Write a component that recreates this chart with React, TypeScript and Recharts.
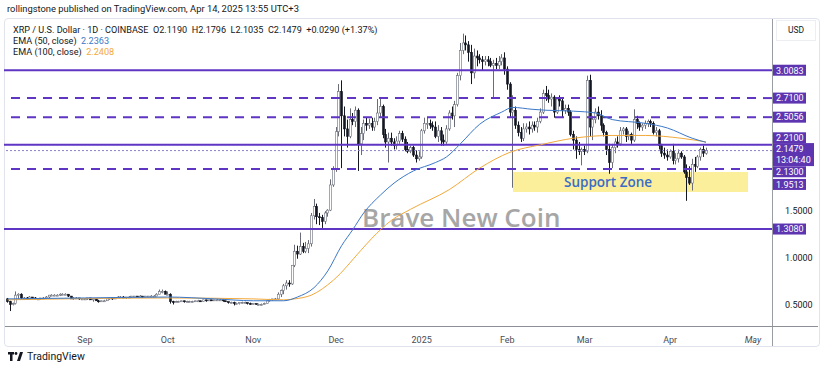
import React from 'react';
import {
  ComposedChart,
  Bar,
  Line,
  XAxis,
  YAxis,
  ReferenceLine,
  ReferenceArea,
} from 'recharts';

// daily candles, [open, high, low, close], first row = Aug 4 2024
const aug2024 = [
  [0.56, 0.57, 0.52, 0.53], [0.53, 0.54, 0.43, 0.50], [0.50, 0.52, 0.49, 0.51], [0.51, 0.64, 0.50, 0.60],
  [0.60, 0.62, 0.56, 0.61], [0.61, 0.62, 0.56, 0.57], [0.57, 0.58, 0.56, 0.57], [0.57, 0.58, 0.55, 0.56],
  [0.56, 0.59, 0.55, 0.58], [0.58, 0.58, 0.56, 0.57], [0.57, 0.58, 0.56, 0.56], [0.56, 0.57, 0.55, 0.56],
  [0.56, 0.57, 0.55, 0.57], [0.57, 0.58, 0.56, 0.57], [0.57, 0.59, 0.57, 0.58], [0.58, 0.60, 0.57, 0.60],
  [0.60, 0.61, 0.59, 0.60], [0.60, 0.61, 0.59, 0.60], [0.60, 0.61, 0.59, 0.60], [0.60, 0.62, 0.59, 0.61],
  [0.61, 0.62, 0.60, 0.61], [0.61, 0.62, 0.60, 0.61], [0.61, 0.61, 0.58, 0.59], [0.59, 0.59, 0.56, 0.56],
  [0.56, 0.58, 0.55, 0.57], [0.57, 0.58, 0.56, 0.57], [0.57, 0.57, 0.55, 0.56], [0.56, 0.57, 0.55, 0.56],
];
const sep2024 = [
  [0.56, 0.57, 0.55, 0.56], [0.56, 0.57, 0.55, 0.57], [0.57, 0.57, 0.55, 0.55], [0.55, 0.56, 0.53, 0.56],
  [0.56, 0.56, 0.54, 0.54], [0.54, 0.55, 0.52, 0.53], [0.53, 0.54, 0.53, 0.54], [0.54, 0.55, 0.53, 0.54],
  [0.54, 0.56, 0.54, 0.56], [0.56, 0.57, 0.55, 0.57], [0.57, 0.57, 0.55, 0.56], [0.56, 0.58, 0.56, 0.57],
  [0.57, 0.59, 0.57, 0.58], [0.58, 0.59, 0.57, 0.58], [0.58, 0.59, 0.57, 0.57], [0.57, 0.58, 0.56, 0.58],
  [0.58, 0.59, 0.57, 0.58], [0.58, 0.59, 0.57, 0.59], [0.59, 0.59, 0.58, 0.59], [0.59, 0.59, 0.58, 0.58],
  [0.58, 0.60, 0.58, 0.59], [0.59, 0.59, 0.57, 0.58], [0.58, 0.59, 0.58, 0.59], [0.59, 0.59, 0.58, 0.59],
  [0.59, 0.60, 0.58, 0.59], [0.59, 0.60, 0.58, 0.59], [0.59, 0.62, 0.59, 0.61], [0.61, 0.66, 0.61, 0.64],
  [0.64, 0.66, 0.62, 0.64], [0.64, 0.65, 0.61, 0.61],
];
const oct2024 = [
  [0.61, 0.64, 0.60, 0.61], [0.61, 0.62, 0.51, 0.53], [0.53, 0.54, 0.50, 0.52], [0.52, 0.54, 0.52, 0.53],
  [0.53, 0.54, 0.52, 0.53], [0.53, 0.54, 0.53, 0.54], [0.54, 0.54, 0.52, 0.53], [0.53, 0.54, 0.52, 0.53],
  [0.53, 0.54, 0.52, 0.53], [0.53, 0.54, 0.52, 0.53], [0.53, 0.54, 0.53, 0.54], [0.54, 0.55, 0.53, 0.54],
  [0.54, 0.54, 0.53, 0.53], [0.53, 0.55, 0.53, 0.55], [0.55, 0.55, 0.53, 0.54], [0.54, 0.55, 0.54, 0.55],
  [0.55, 0.55, 0.54, 0.54], [0.54, 0.55, 0.54, 0.55], [0.55, 0.56, 0.54, 0.55], [0.55, 0.56, 0.54, 0.55],
  [0.55, 0.55, 0.53, 0.54], [0.54, 0.54, 0.53, 0.53], [0.53, 0.53, 0.51, 0.52], [0.52, 0.53, 0.51, 0.52],
  [0.52, 0.53, 0.49, 0.51], [0.51, 0.52, 0.50, 0.51], [0.51, 0.52, 0.50, 0.52], [0.52, 0.53, 0.51, 0.52],
  [0.52, 0.53, 0.51, 0.52], [0.52, 0.52, 0.50, 0.51], [0.51, 0.52, 0.50, 0.50],
];
const nov2024 = [
  [0.50, 0.51, 0.50, 0.51], [0.51, 0.51, 0.50, 0.50], [0.50, 0.51, 0.49, 0.50], [0.50, 0.51, 0.49, 0.50],
  [0.50, 0.52, 0.50, 0.51], [0.51, 0.55, 0.51, 0.54], [0.54, 0.56, 0.53, 0.55], [0.55, 0.56, 0.54, 0.56],
  [0.56, 0.57, 0.55, 0.56], [0.56, 0.63, 0.55, 0.61], [0.61, 0.66, 0.58, 0.65], [0.65, 0.72, 0.61, 0.70],
  [0.70, 0.76, 0.66, 0.73], [0.73, 0.76, 0.69, 0.72], [0.72, 0.92, 0.71, 0.92], [0.92, 1.14, 0.90, 1.07],
  [1.07, 1.13, 0.99, 1.04], [1.04, 1.27, 1.03, 1.12], [1.12, 1.16, 1.05, 1.07], [1.07, 1.17, 1.05, 1.10],
  [1.10, 1.19, 1.05, 1.15], [1.15, 1.48, 1.12, 1.45], [1.45, 1.63, 1.41, 1.55], [1.55, 1.58, 1.36, 1.44],
  [1.44, 1.48, 1.35, 1.43], [1.43, 1.46, 1.32, 1.39], [1.39, 1.50, 1.36, 1.48], [1.48, 1.52, 1.44, 1.51],
  [1.51, 1.84, 1.50, 1.78], [1.78, 1.98, 1.76, 1.95],
];
const dec2024 = [
  [1.95, 2.40, 1.92, 2.35], [2.35, 2.86, 2.30, 2.78], [2.78, 2.90, 1.96, 2.52], [2.52, 2.62, 2.30, 2.38],
  [2.38, 2.48, 2.18, 2.30], [2.30, 2.60, 2.28, 2.48], [2.48, 2.55, 2.42, 2.46], [2.46, 2.62, 2.40, 2.58],
  [2.58, 2.60, 1.93, 2.22], [2.22, 2.40, 2.10, 2.33], [2.33, 2.48, 2.26, 2.44], [2.44, 2.50, 2.36, 2.42],
  [2.42, 2.49, 2.38, 2.44], [2.44, 2.50, 2.36, 2.40], [2.40, 2.50, 2.36, 2.46], [2.46, 2.70, 2.42, 2.55],
  [2.55, 2.72, 2.50, 2.62], [2.62, 2.64, 2.28, 2.32], [2.32, 2.38, 2.18, 2.24], [2.24, 2.34, 2.02, 2.28],
  [2.28, 2.34, 2.20, 2.24], [2.24, 2.28, 2.16, 2.20], [2.20, 2.30, 2.16, 2.25], [2.25, 2.36, 2.22, 2.33],
  [2.33, 2.36, 2.24, 2.27], [2.27, 2.30, 2.14, 2.16], [2.16, 2.24, 2.12, 2.14], [2.14, 2.20, 2.12, 2.18],
  [2.18, 2.20, 2.08, 2.10], [2.10, 2.15, 2.02, 2.06], [2.06, 2.14, 2.04, 2.08],
];
const jan2025 = [
  [2.08, 2.38, 2.06, 2.36], [2.36, 2.50, 2.33, 2.44], [2.44, 2.50, 2.38, 2.44], [2.44, 2.48, 2.38, 2.42],
  [2.42, 2.46, 2.36, 2.40], [2.40, 2.46, 2.28, 2.30], [2.30, 2.42, 2.24, 2.36], [2.36, 2.40, 2.20, 2.26],
  [2.26, 2.32, 2.20, 2.24], [2.24, 2.42, 2.22, 2.38], [2.38, 2.58, 2.36, 2.55], [2.55, 2.62, 2.48, 2.52],
  [2.52, 2.68, 2.40, 2.64], [2.64, 2.98, 2.62, 2.95], [2.95, 3.30, 2.90, 3.22], [3.22, 3.40, 3.18, 3.30],
  [3.30, 3.38, 3.22, 3.28], [3.28, 3.32, 3.10, 3.20], [3.20, 3.28, 2.86, 2.98], [2.98, 3.24, 2.92, 3.16],
  [3.16, 3.22, 3.05, 3.14], [3.14, 3.18, 3.08, 3.12], [3.12, 3.16, 3.00, 3.10], [3.10, 3.16, 3.06, 3.12],
  [3.12, 3.16, 3.05, 3.10], [3.10, 3.14, 3.04, 3.06], [3.06, 3.12, 2.70, 3.08], [3.08, 3.14, 3.02, 3.06],
  [3.06, 3.16, 3.02, 3.10], [3.10, 3.18, 3.06, 3.14], [3.14, 3.20, 2.96, 3.02],
];
const feb2025 = [
  [3.02, 3.05, 2.80, 2.86], [2.86, 2.88, 2.50, 2.56], [2.56, 2.74, 1.75, 2.58], [2.58, 2.62, 2.38, 2.42],
  [2.42, 2.46, 2.30, 2.34], [2.34, 2.40, 2.24, 2.28], [2.28, 2.44, 2.25, 2.38], [2.38, 2.44, 2.34, 2.40],
  [2.40, 2.46, 2.32, 2.38], [2.38, 2.46, 2.34, 2.42], [2.42, 2.46, 2.36, 2.40], [2.40, 2.50, 2.34, 2.46],
  [2.46, 2.60, 2.44, 2.56], [2.56, 2.80, 2.54, 2.76], [2.76, 2.84, 2.68, 2.74], [2.74, 2.80, 2.66, 2.70],
  [2.70, 2.76, 2.62, 2.72], [2.72, 2.74, 2.50, 2.56], [2.56, 2.72, 2.54, 2.70], [2.70, 2.74, 2.62, 2.68],
  [2.68, 2.72, 2.50, 2.58], [2.58, 2.64, 2.54, 2.60], [2.60, 2.64, 2.52, 2.56], [2.56, 2.58, 2.30, 2.32],
  [2.32, 2.36, 2.16, 2.26], [2.26, 2.30, 2.06, 2.16], [2.16, 2.24, 2.10, 2.14], [2.14, 2.18, 1.99, 2.16],
];
const mar2025 = [
  [2.16, 2.20, 2.10, 2.14], [2.14, 2.95, 2.12, 2.90], [2.90, 2.96, 2.30, 2.40], [2.40, 2.52, 2.26, 2.48],
  [2.48, 2.60, 2.44, 2.56], [2.56, 2.62, 2.48, 2.52], [2.52, 2.58, 2.36, 2.42], [2.42, 2.44, 2.30, 2.34],
  [2.34, 2.36, 2.10, 2.16], [2.16, 2.22, 1.90, 2.02], [2.02, 2.22, 1.96, 2.18], [2.18, 2.28, 2.12, 2.24],
  [2.24, 2.30, 2.18, 2.22], [2.22, 2.40, 2.20, 2.36], [2.36, 2.40, 2.32, 2.38], [2.38, 2.40, 2.24, 2.30],
  [2.30, 2.36, 2.26, 2.32], [2.32, 2.34, 2.22, 2.26], [2.26, 2.59, 2.24, 2.48], [2.48, 2.52, 2.38, 2.44],
  [2.44, 2.46, 2.36, 2.40], [2.40, 2.44, 2.36, 2.42], [2.42, 2.47, 2.38, 2.44], [2.44, 2.48, 2.40, 2.46],
  [2.46, 2.48, 2.40, 2.44], [2.44, 2.46, 2.32, 2.34], [2.34, 2.40, 2.30, 2.36], [2.36, 2.38, 2.16, 2.20],
  [2.20, 2.22, 2.08, 2.12], [2.12, 2.18, 2.06, 2.10], [2.10, 2.16, 2.04, 2.08],
];
const apr2025 = [
  [2.08, 2.16, 2.06, 2.14], [2.14, 2.22, 2.00, 2.04], [2.04, 2.12, 2.00, 2.06], [2.06, 2.16, 2.02, 2.12],
  [2.12, 2.14, 2.06, 2.08], [2.08, 2.10, 1.90, 1.92], [1.92, 2.00, 1.61, 1.86], [1.86, 1.98, 1.78, 1.80],
  [1.80, 2.06, 1.72, 2.00], [2.00, 2.08, 1.92, 1.98], [1.98, 2.10, 1.96, 2.08], [2.08, 2.18, 2.04, 2.16],
  [2.16, 2.20, 2.08, 2.12], [2.119, 2.1796, 2.1035, 2.1479],
];

// EMA lines: [day index, value]
const ema50Points = [
  [0, 0.56], [28, 0.57], [58, 0.58], [75, 0.56], [89, 0.54], [100, 0.54], [105, 0.58], [111, 0.68],
  [116, 0.86], [121, 1.13], [125, 1.3], [129, 1.48], [135, 1.67], [140, 1.8], [147, 1.93], [155, 2.02],
  [159, 2.08], [164, 2.22], [171, 2.43], [179, 2.56], [183, 2.61], [190, 2.59], [195, 2.58], [205, 2.57],
  [213, 2.55], [219, 2.48], [231, 2.44], [239, 2.39], [248, 2.28], [253, 2.2363],
];
const ema100Points = [
  [0, 0.55], [58, 0.57], [89, 0.56], [100, 0.55], [104, 0.56], [110, 0.6], [118, 0.76], [128, 1.08],
  [132, 1.21], [139, 1.4], [146, 1.52], [160, 1.73], [171, 1.96], [182, 2.13], [193, 2.21], [205, 2.28],
  [219, 2.31], [231, 2.31], [244, 2.28], [253, 2.2408],
];

const monthTicks = [28, 58, 89, 119, 150, 181, 209, 240, 270];
const monthLabels = ['Sep', 'Oct', 'Nov', 'Dec', '2025', 'Feb', 'Mar', 'Apr', 'May'];
const priceTicks = [0.5, 1.0, 1.5];

const PURPLE = '#5f35c4';
const TAG = '#5e35b1';
const UP = '#6a6d78';
const DOWN = '#131722';
const FONT = 'Roboto, "Open Sans", sans-serif';

const candles = [...aug2024, ...sep2024, ...oct2024, ...nov2024, ...dec2024, ...jan2025, ...feb2025, ...mar2025, ...apr2025];

const rows = candles.map(([open, high, low, close], day) => {
  const row: any = { day, open, high, low, close, range: [low, high] };
  const e50 = ema50Points.find((p) => p[0] === day);
  const e100 = ema100Points.find((p) => p[0] === day);
  if (e50) row.ema50 = e50[1];
  if (e100) row.ema100 = e100[1];
  return row;
});

const Candle = (props: any) => {
  const { x, y, width, height, payload } = props;
  if (!payload) return null;
  const { open, high, low, close } = payload;
  const top = Math.min(y, y + height);
  const h = Math.abs(height);
  const k = h / (high - low || 1);
  const cx = Math.round(x + width / 2) + 0.5;
  const yO = top + (high - open) * k;
  const yC = top + (high - close) * k;
  const up = close >= open;
  const bodyTop = Math.min(yO, yC);
  const bodyH = Math.max(1, Math.abs(yC - yO));
  const col = up ? UP : DOWN;
  return (
    <g>
      <line x1={cx} x2={cx} y1={top} y2={top + h} stroke={col} strokeWidth={1} />
      <rect x={cx - 1} y={bodyTop} width={2} height={bodyH} fill={up ? '#ffffff' : DOWN} stroke={col} strokeWidth={0.6} />
    </g>
  );
};

const priceTag = (text: string, dy: number) => (props: any) => {
  const vb = props.viewBox || {};
  const x = (vb.x || 0) + (vb.width || 0) + 1;
  const cy = (vb.y || 0) + dy;
  return (
    <g>
      <rect x={x} y={cy - 5.5} width={33} height={11} fill={TAG} />
      <text x={x + 3} y={cy + 3.3} fontSize={9} fontFamily={FONT} fill="#fff">
        {text}
      </text>
    </g>
  );
};

const currentTag = (props: any) => {
  const vb = props.viewBox || {};
  const x = (vb.x || 0) + (vb.width || 0) + 1;
  const top = (vb.y || 0) - 7.5;
  return (
    <g>
      <rect x={x} y={top} width={41} height={23} fill={TAG} />
      <text x={x + 3} y={top + 9} fontSize={9} fontFamily={FONT} fill="#fff">2.1479</text>
      <text x={x + 3} y={top + 19.5} fontSize={9} fontFamily={FONT} fill="#fff">13:04:40</text>
    </g>
  );
};

const zoneLabel = (props: any) => {
  const vb = props.viewBox || {};
  return (
    <text
      x={(vb.x || 0) + 95}
      y={(vb.y || 0) + (vb.height || 0) / 2 + 5}
      textAnchor="middle"
      fontSize={13.5}
      fontWeight={600}
      fontFamily='"Open Sans", sans-serif'
      fill="#3a6cc6"
    >
      Support Zone
    </text>
  );
};

const MonthTick = (props: any) => {
  const { x, y, payload } = props;
  const i = monthTicks.indexOf(payload.value);
  return (
    <text x={x} y={y + 9} textAnchor="middle" fontSize={9} fontFamily={FONT} fill="#4a4d57" fontStyle={i === 8 ? 'italic' : 'normal'}>
      {monthLabels[i]}
    </text>
  );
};

export default function App() {
  return (
    <div style={{ position: 'relative', width: 825, height: 370, background: '#fff', fontFamily: FONT, overflow: 'hidden' }}>
      <style>{'body{margin:0}'}</style>
      <div style={{ position: 'absolute', left: 7, top: 3, fontSize: 9.4, color: '#131722', whiteSpace: 'nowrap' }}>
        rollingstone published on TradingView.com, Apr 14, 2025 13:55 UTC+3
      </div>
      <div style={{ position: 'absolute', left: 4, top: 18, width: 814, height: 327, border: '1px solid #e0e3eb', borderRadius: 4 }} />
      <div style={{ position: 'absolute', left: 772, top: 19, width: 1, height: 327, background: '#9a9ca3' }} />
      <div style={{ position: 'absolute', left: 5, top: 326, width: 813, height: 1, background: '#8c8f96' }} />
      <div style={{ position: 'absolute', left: 776, top: 20, width: 38, height: 19, border: '1px solid #eceef2', fontSize: 8.5, textAlign: 'center', lineHeight: '19px', color: '#131722' }}>
        USD
      </div>
      <div style={{ position: 'absolute', left: 362, top: 199, fontSize: 26, fontWeight: 600, color: '#a6a6a6', fontFamily: '"Open Sans", sans-serif', whiteSpace: 'nowrap' }}>
        Brave New Coin
      </div>
      <div style={{ position: 'absolute', left: 0, top: 0 }}>
        <ComposedChart width={825} height={370} data={rows} margin={{ top: 22, right: 5, bottom: 24, left: 4 }}>
          <XAxis
            dataKey="day"
            type="number"
            domain={[-1.3, 276.9]}
            allowDataOverflow
            ticks={monthTicks}
            tick={<MonthTick />}
            axisLine={false}
            tickLine={false}
            height={20}
            interval={0}
          />
          <YAxis
            orientation="right"
            width={48}
            type="number"
            domain={[0.2698, 3.5246]}
            allowDataOverflow
            ticks={priceTicks}
            tickFormatter={(v: number) => v.toFixed(4)}
            tick={{ fontSize: 9, fill: '#131722', fontFamily: FONT }}
            axisLine={false}
            tickLine={false}
            tickMargin={7}
          />
          <ReferenceArea x1={183.1} x2={268.2} y1={1.704} y2={1.919} fill="#fbef9c" fillOpacity={1} stroke="none" label={zoneLabel} />
          <ReferenceLine y={3.0083} stroke={PURPLE} strokeWidth={2} label={priceTag('3.0083', 0)} />
          <ReferenceLine y={2.71} stroke={PURPLE} strokeWidth={2} strokeDasharray="9 7" label={priceTag('2.7100', 0)} />
          <ReferenceLine y={2.5056} stroke={PURPLE} strokeWidth={2} strokeDasharray="9 7" label={priceTag('2.5056', 0)} />
          <ReferenceLine y={2.21} stroke={PURPLE} strokeWidth={2} label={priceTag('2.2100', -7)} />
          <ReferenceLine y={2.13} stroke="none" label={priceTag('2.1300', 19.5)} />
          <ReferenceLine y={1.9513} stroke={PURPLE} strokeWidth={2} strokeDasharray="9 7" label={priceTag('1.9513', 15.5)} />
          <ReferenceLine y={1.308} stroke={PURPLE} strokeWidth={2} label={priceTag('1.3080', 0)} />
          <ReferenceLine y={2.1479} stroke="#8a80c8" strokeWidth={1} strokeDasharray="2 2" label={currentTag} />
          <Line type="monotone" dataKey="ema100" stroke="#f2a93b" strokeWidth={1} dot={false} connectNulls isAnimationActive={false} />
          <Line type="monotone" dataKey="ema50" stroke="#3b78c8" strokeWidth={1} dot={false} connectNulls isAnimationActive={false} />
          <Bar dataKey="range" shape={Candle} barSize={2} isAnimationActive={false} />
        </ComposedChart>
      </div>
      <div style={{ position: 'absolute', left: 13, top: 25, fontSize: 9.1, color: '#131722', whiteSpace: 'nowrap', lineHeight: '10.8px' }}>
        <div>XRP / U.S. Dollar · 1D · COINBASE&nbsp; O2.1190&nbsp; H2.1796&nbsp; L2.1035&nbsp; C2.1479&nbsp; +0.0290 (+1.37%)</div>
        <div>EMA (50, close)&nbsp; <span style={{ color: '#3b78c8' }}>2.2363</span></div>
        <div>EMA (100, close)&nbsp; <span style={{ color: '#f2a93b' }}>2.2408</span></div>
      </div>
      <div style={{ position: 'absolute', left: 8, top: 350, display: 'flex', alignItems: 'center', gap: 4, fontSize: 10.5, color: '#131722' }}>
        <svg width={15} height={9} viewBox="0 0 15 9">
          <rect x={0} y={0} width={6} height={2.5} fill="#131722" />
          <rect x={2} y={0} width={2.5} height={9} fill="#131722" />
          <circle cx={8} cy={1.5} r={1.4} fill="#131722" />
          <polygon points="9,9 12,0 15,0 12,9" fill="#131722" />
        </svg>
        <span>TradingView</span>
      </div>
    </div>
  );
}
